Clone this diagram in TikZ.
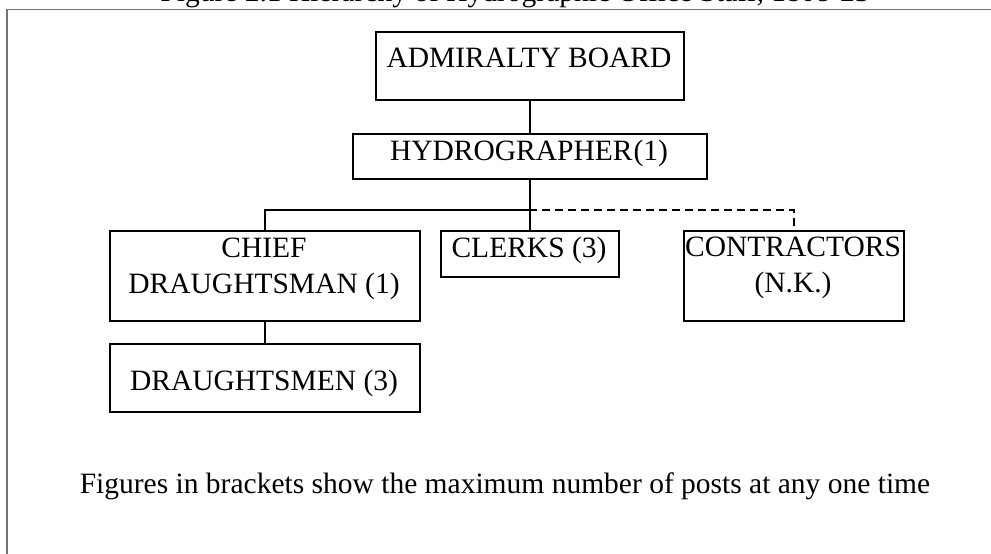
\documentclass[tikz,border=0pt]{standalone}
\usepackage{fontspec}
\setmainfont{Liberation Serif}
\begin{document}
\begin{tikzpicture}[x=1pt,y=-1pt,
  box/.style={draw=black, line width=1.8pt, rectangle, inner sep=0pt, anchor=north west},
  txt/.style={inner sep=0pt, anchor=base, font=\fontsize{29.5}{36}\selectfont, align=center},
  link/.style={draw=black, line width=1.6pt},
  frameline/.style={draw=black!55, line width=1.5pt}]
\useasboundingbox (0,0) rectangle (991,554);
\begin{scope}
\clip (0,0) rectangle (991,554);
% title (cut off at top)
\node[txt] (title) at (515,1.5) {Figure 2.1 Hierarchy of Hydrographic Office Staff, 1808-23};
% frame
\coordinate (fTL) at (7,9.5);
\coordinate (fTR) at (991,9.5);
\coordinate (fBL) at (7,554);
\draw[frameline] (fTR) -- (fTL) -- (fBL);
\end{scope}
% boxes
\node[box, minimum width=308pt, minimum height=68pt] (adm) at (375,31) {};
\node[txt] (admt) at (529,67) {ADMIRALTY BOARD};
\node[box, minimum width=354pt, minimum height=45pt] (hyd) at (352,133) {};
\node[txt] (hydt) at (529,160) {HYDROGRAPHER\kern1pt(1)};
\node[box, minimum width=310pt, minimum height=90pt] (chief) at (109,230) {};
\node[txt] (chieft) at (264,293) {CHIEF\\DRAUGHTSMAN (1)};
\node[box, minimum width=178pt, minimum height=46pt] (clk) at (440,230) {};
\node[txt] (clkt) at (529,257) {CLERKS (3)};
\node[box, minimum width=220pt, minimum height=90pt] (con) at (683,230) {};
\node[txt] (cont) at (793,292) {CONTRACTORS\\(N.K.)};
\node[box, minimum width=310pt, minimum height=68pt] (dra) at (109,343) {};
\node[txt] (drat) at (264,390) {DRAUGHTSMEN (3)};
% footer
\node[txt] (note) at (505,493) {Figures in brackets show the maximum number of posts at any one time};
% connectors
\coordinate (bar) at (529,210);
\draw[link] (adm.south) -- (hyd.north);
\draw[link] (hyd.south) -- (clk.north);
\draw[link] (bar) -| (chief.north);
\draw[link, dash pattern=on 8pt off 5pt] (bar) -| (con.north);
\draw[link] (chief.south) -- (dra.north);
\end{tikzpicture}
\end{document}
